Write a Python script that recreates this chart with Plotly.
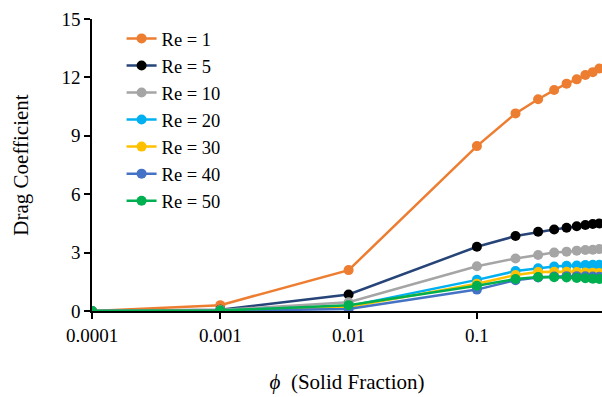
import plotly.graph_objects as go

phi = [0.0001, 0.001, 0.01, 0.1, 0.2, 0.3, 0.4, 0.5, 0.6, 0.7, 0.8, 0.9]

re1 = [0.0, 0.3, 2.1, 8.47, 10.15, 10.88, 11.35, 11.68, 11.9, 12.12, 12.27, 12.46]
re5 = [0.0, 0.06, 0.85, 3.3, 3.85, 4.07, 4.19, 4.28, 4.35, 4.42, 4.47, 4.5]
re10 = [0.0, 0.05, 0.45, 2.3, 2.7, 2.88, 3.0, 3.05, 3.1, 3.13, 3.15, 3.18]
re20 = [0.0, 0.03, 0.25, 1.6, 2.05, 2.2, 2.28, 2.32, 2.34, 2.36, 2.37, 2.38]
re30 = [0.0, 0.02, 0.2, 1.4, 1.85, 2.0, 2.02, 2.02, 2.0, 1.98, 1.97, 1.95]
re40 = [0.0, 0.01, 0.1, 1.1, 1.58, 1.72, 1.77, 1.79, 1.79, 1.78, 1.77, 1.76]
re50 = [0.0, 0.02, 0.3, 1.3, 1.64, 1.75, 1.73, 1.72, 1.7, 1.68, 1.66, 1.64]

names = ["Re = 1", "Re = 5", "Re = 10", "Re = 20", "Re = 30", "Re = 40", "Re = 50"]
series = [re1, re5, re10, re20, re30, re40, re50]
line_colors = ["#ED7D31", "#264478", "#A5A5A5", "#00B0F0", "#FFC000", "#4472C4", "#00B050"]
marker_colors = ["#ED7D31", "#000000", "#A5A5A5", "#00B0F0", "#FFC000", "#4472C4", "#00B050"]

y_ticks = [0, 3, 6, 9, 12, 15]
x_ticks = [0.0001, 0.001, 0.01, 0.1]
x_tick_labels = ["0.0001", "0.001", "0.01", "0.1"]

FF = "Liberation Serif"

fig = go.Figure()
for name, ys, lc, mc in zip(names, series, line_colors, marker_colors):
    fig.add_trace(go.Scatter(
        x=phi, y=ys, name=name, mode="lines+markers",
        line=dict(color=lc, width=2.5),
        marker=dict(color=mc, size=10),
    ))

fig.update_layout(
    width=602, height=397,
    margin=dict(l=92, r=0, t=19, b=86),
    paper_bgcolor="white", plot_bgcolor="white",
    font=dict(family=FF, size=19, color="#000000"),
    showlegend=True,
    legend=dict(x=0.058, y=0.997, xanchor="left", yanchor="top",
                font=dict(family=FF, size=18.5)),
    xaxis=dict(
        type="log", range=[-4, -0.025],
        tickvals=x_ticks, ticktext=x_tick_labels,
        showgrid=False, zeroline=False,
        showline=True, linecolor="black", linewidth=1.5,
        ticks="outside", ticklen=6, tickcolor="black", tickwidth=1.5,
        tickfont=dict(family=FF, size=19),
        title=dict(text="<i>\u03d5</i>  (Solid Fraction)", font=dict(family=FF, size=21), standoff=30),
    ),
    yaxis=dict(
        range=[0, 15], tickvals=y_ticks,
        showgrid=False, zeroline=False,
        showline=True, linecolor="black", linewidth=1.5,
        ticks="outside", ticklen=6, tickcolor="black", tickwidth=1.5,
        tickfont=dict(family=FF, size=19),
        title=dict(text="Drag Coefficient", font=dict(family=FF, size=21), standoff=27),
    ),
)

fig.write_html(
    "out.html",
    config={"displayModeBar": False},
    post_script="document.body.style.margin='0';document.body.style.overflow='hidden';",
)
